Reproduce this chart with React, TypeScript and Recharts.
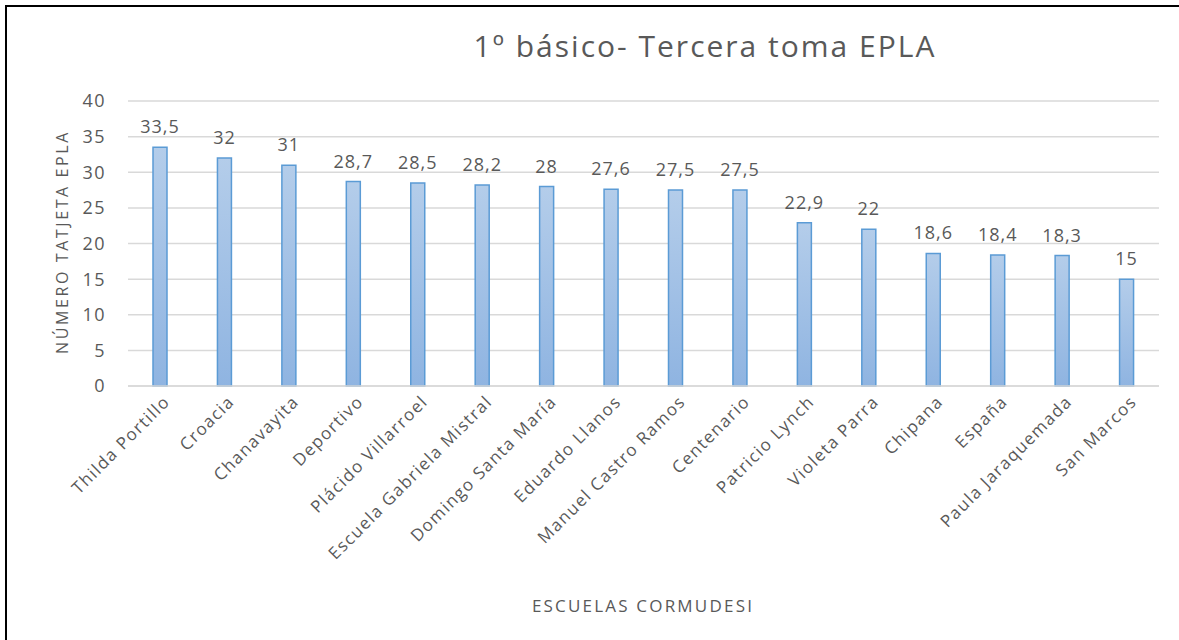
import { BarChart, Bar, XAxis, YAxis, CartesianGrid, LabelList } from 'recharts'

const escuelas = [
  'Thilda Portillo',
  'Croacia',
  'Chanavayita',
  'Deportivo',
  'Plácido Villarroel',
  'Escuela Gabriela Mistral',
  'Domingo Santa María',
  'Eduardo Llanos',
  'Manuel Castro Ramos',
  'Centenario',
  'Patricio Lynch',
  'Violeta Parra',
  'Chipana',
  'España',
  'Paula Jaraquemada',
  'San Marcos',
]
const puntajes = [33.5, 32, 31, 28.7, 28.5, 28.2, 28, 27.6, 27.5, 27.5, 22.9, 22, 18.6, 18.4, 18.3, 15]
const yTicks = [0, 5, 10, 15, 20, 25, 30, 35, 40]

const data = escuelas.map((name, i) => ({ name, value: puntajes[i] }))

const FONT = '"Open Sans", "Noto Sans", sans-serif'
const GREY = '#595959'

function AngledTick(props: any) {
  const { x, y, payload } = props
  return (
    <g transform={`translate(${x + 8},${y + 6})`}>
      <text
        x={0}
        y={0}
        dy={4}
        textAnchor="end"
        transform="rotate(-45)"
        fill={GREY}
        fontSize={17}
        letterSpacing={1.4}
        fontFamily={FONT}
      >
        {payload.value}
      </text>
    </g>
  )
}

function fmt(v: any) {
  return String(v).replace('.', ',')
}

export default function App() {
  return (
    <div style={{ position: 'absolute', left: 0, top: 0, width: 1179, height: 640, background: '#fff' }}>
      <div
        style={{
          position: 'absolute',
          left: 5,
          top: 5,
          width: 1174,
          height: 635,
          borderTop: '2px solid #000',
          borderLeft: '2px solid #000',
          boxSizing: 'border-box',
        }}
      />
      <div
        style={{
          position: 'absolute',
          left: 305,
          width: 800,
          top: 25,
          textAlign: 'center',
          fontFamily: FONT,
          fontSize: 30,
          color: GREY,
          letterSpacing: 2,
        }}
      >
        1º básico- Tercera toma EPLA
      </div>
      <div
        style={{
          position: 'absolute',
          left: 62 - 150,
          top: 243 - 12,
          width: 300,
          textAlign: 'center',
          transform: 'rotate(-90deg)',
          fontFamily: FONT,
          fontSize: 16,
          letterSpacing: 2.6,
          color: GREY,
        }}
      >
        NÚMERO TATJETA EPLA
      </div>
      <div
        style={{
          position: 'absolute',
          left: 643 - 200,
          top: 594,
          width: 400,
          textAlign: 'center',
          fontFamily: FONT,
          fontSize: 17,
          letterSpacing: 2.2,
          color: GREY,
        }}
      >
        ESCUELAS CORMUDESI
      </div>
      <div style={{ position: 'absolute', left: 0, top: 0 }}>
        <BarChart
          width={1179}
          height={640}
          data={data}
          margin={{ top: 101, right: 20, bottom: 0, left: 68 }}
        >
          <defs>
            <linearGradient id="barFill" x1="0" y1="0" x2="0" y2="1">
              <stop offset="0%" stopColor="#b4cdea" />
              <stop offset="100%" stopColor="#8fb4e1" />
            </linearGradient>
          </defs>
          <CartesianGrid vertical={false} stroke="#d9d9d9" strokeWidth={1.5} />
          <XAxis
            dataKey="name"
            interval={0}
            height={254}
            tickLine={false}
            axisLine={{ stroke: '#d9d9d9', strokeWidth: 1.5 }}
            tick={<AngledTick />}
          />
          <YAxis
            width={60}
            domain={[0, 40]}
            ticks={yTicks}
            tickLine={false}
            axisLine={false}
            tickMargin={16}
            tick={{ fill: GREY, fontSize: 18, fontFamily: FONT, letterSpacing: 1.5 }}
          />
          <Bar
            dataKey="value"
            barSize={14}
            fill="url(#barFill)"
            stroke="#5b9bd5"
            strokeWidth={1.5}
            isAnimationActive={false}
          >
            <LabelList
              dataKey="value"
              position="top"
              offset={14}
              formatter={fmt}
              fill={GREY}
              fontSize={18}
              letterSpacing={1}
              fontFamily={FONT}
            />
          </Bar>
        </BarChart>
      </div>
    </div>
  )
}
